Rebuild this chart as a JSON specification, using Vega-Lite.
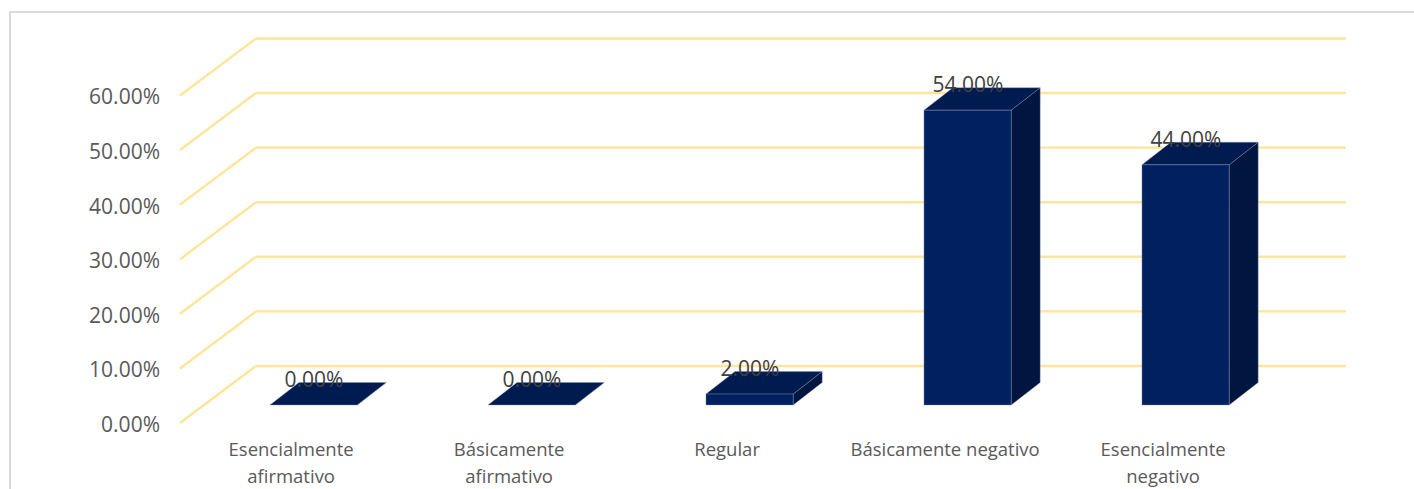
{"$schema":"https://vega.github.io/schema/vega-lite/v6.json","width":1406,"height":480,"padding":{"left":10,"top":12,"right":0,"bottom":0},"autosize":"none","background":"white","config":{"view":{"stroke":"#d9d9d9","strokeWidth":2},"axis":{"grid":false}},"datasets":{"bars":[{"category":"Esencialmente\nafirmativo","value":0},{"category":"Básicamente\nafirmativo","value":0},{"category":"Regular","value":0.02},{"category":"Básicamente negativo","value":0.54},{"category":"Esencialmente\nnegativo","value":0.44}],"levels":[{"level":0},{"level":0.1},{"level":0.2},{"level":0.3},{"level":0.4},{"level":0.5},{"level":0.6}]},"layer":[{"data":{"name":"levels"},"transform":[{"calculate":"datum.level+0.0714","as":"back"},{"calculate":"datum.level-0.033","as":"front"},{"calculate":"-0.6147","as":"xa"},{"calculate":"-0.266","as":"xb"},{"calculate":"4.734","as":"xc"}],"layer":[{"mark":{"type":"rule","stroke":"#ffe599","strokeWidth":2.4},"encoding":{"x":{"field":"xa","type":"quantitative","axis":null,"scale":{"domain":[-1.3945,5.055],"nice":false,"zero":false}},"x2":{"field":"xb"},"y":{"field":"front","type":"quantitative","axis":null,"scale":{"domain":[-0.15934,0.7198],"nice":false,"zero":false}},"y2":{"field":"back"}}},{"mark":{"type":"rule","stroke":"#ffe599","strokeWidth":2.4},"encoding":{"x":{"field":"xb","type":"quantitative","axis":null,"scale":{"domain":[-1.3945,5.055],"nice":false,"zero":false}},"x2":{"field":"xc"},"y":{"field":"back","type":"quantitative","axis":null,"scale":{"domain":[-0.15934,0.7198],"nice":false,"zero":false}}}},{"mark":{"type":"text","align":"right","baseline":"middle","font":"Open Sans","fontSize":21,"fill":"#595959","dy":3},"encoding":{"x":{"datum":-0.7064,"type":"quantitative","axis":null,"scale":{"domain":[-1.3945,5.055],"nice":false,"zero":false}},"y":{"field":"front","type":"quantitative","axis":null,"scale":{"domain":[-0.15934,0.7198],"nice":false,"zero":false}},"text":{"field":"level","type":"quantitative","format":".2%"}}}]},{"data":{"name":"bars"},"transform":[{"window":[{"op":"row_number","as":"n"}]},{"calculate":"datum.n-1","as":"p"},{"calculate":"[0,1]","as":"t"},{"flatten":["t"]},{"calculate":"datum.p+0.198+datum.t*0.133","as":"sx"},{"calculate":"datum.value+datum.t*0.0412","as":"sy"},{"calculate":"datum.t*0.0412","as":"sy2"}],"mark":{"type":"area","orient":"vertical","fill":"#00153f","stroke":"#8391ad","strokeWidth":0.4},"encoding":{"detail":{"field":"category"},"x":{"field":"sx","type":"quantitative","axis":null,"scale":{"domain":[-1.3945,5.055],"nice":false,"zero":false}},"y":{"field":"sy","type":"quantitative","axis":null,"stack":null,"scale":{"domain":[-0.15934,0.7198],"nice":false,"zero":false}},"y2":{"field":"sy2"}}},{"data":{"name":"bars"},"transform":[{"window":[{"op":"row_number","as":"n"}]},{"calculate":"datum.n-1","as":"p"},{"calculate":"[0,1,2,3]","as":"t"},{"flatten":["t"]},{"calculate":"datum.p+[-0.202,-0.069,0.198,0.331][datum.t]","as":"tx"},{"calculate":"datum.value+(datum.t>0?0.0412:0)","as":"ty"},{"calculate":"datum.value+(datum.t==3?0.0412:0)","as":"ty2"}],"mark":{"type":"area","orient":"vertical","fill":"#001b50","stroke":"#8391ad","strokeWidth":0.4},"encoding":{"detail":{"field":"category"},"x":{"field":"tx","type":"quantitative","axis":null,"scale":{"domain":[-1.3945,5.055],"nice":false,"zero":false}},"y":{"field":"ty","type":"quantitative","axis":null,"stack":null,"scale":{"domain":[-0.15934,0.7198],"nice":false,"zero":false}},"y2":{"field":"ty2"}}},{"data":{"name":"bars"},"transform":[{"window":[{"op":"row_number","as":"n"}]},{"calculate":"datum.n-1","as":"p"},{"calculate":"datum.p-0.202","as":"x0"},{"calculate":"datum.p+0.198","as":"x1"},{"calculate":"datum.p-0.105","as":"lx"}],"layer":[{"transform":[{"filter":"datum.value>0"}],"mark":{"type":"rect","fill":"#002060","stroke":"#8391ad","strokeWidth":0.4},"encoding":{"x":{"field":"x0","type":"quantitative","axis":null,"scale":{"domain":[-1.3945,5.055],"nice":false,"zero":false}},"x2":{"field":"x1"},"y":{"field":"value","type":"quantitative","axis":null,"stack":null,"scale":{"domain":[-0.15934,0.7198],"nice":false,"zero":false}},"y2":{"datum":0}}},{"mark":{"type":"text","align":"center","baseline":"middle","font":"Open Sans","fontSize":21,"fill":"#404040","dy":-24},"encoding":{"x":{"field":"p","type":"quantitative","axis":null,"scale":{"domain":[-1.3945,5.055],"nice":false,"zero":false}},"y":{"field":"value","type":"quantitative","axis":null,"stack":null,"scale":{"domain":[-0.15934,0.7198],"nice":false,"zero":false}},"text":{"field":"value","type":"quantitative","format":".2%"}}},{"mark":{"type":"text","align":"center","baseline":"alphabetic","font":"Open Sans","fontSize":18.5,"fill":"#595959","lineBreak":"\n","lineHeight":27,"dy":51},"encoding":{"x":{"field":"lx","type":"quantitative","axis":null,"scale":{"domain":[-1.3945,5.055],"nice":false,"zero":false}},"y":{"datum":0,"type":"quantitative","axis":null,"scale":{"domain":[-0.15934,0.7198],"nice":false,"zero":false}},"text":{"field":"category"}}}]}]}
